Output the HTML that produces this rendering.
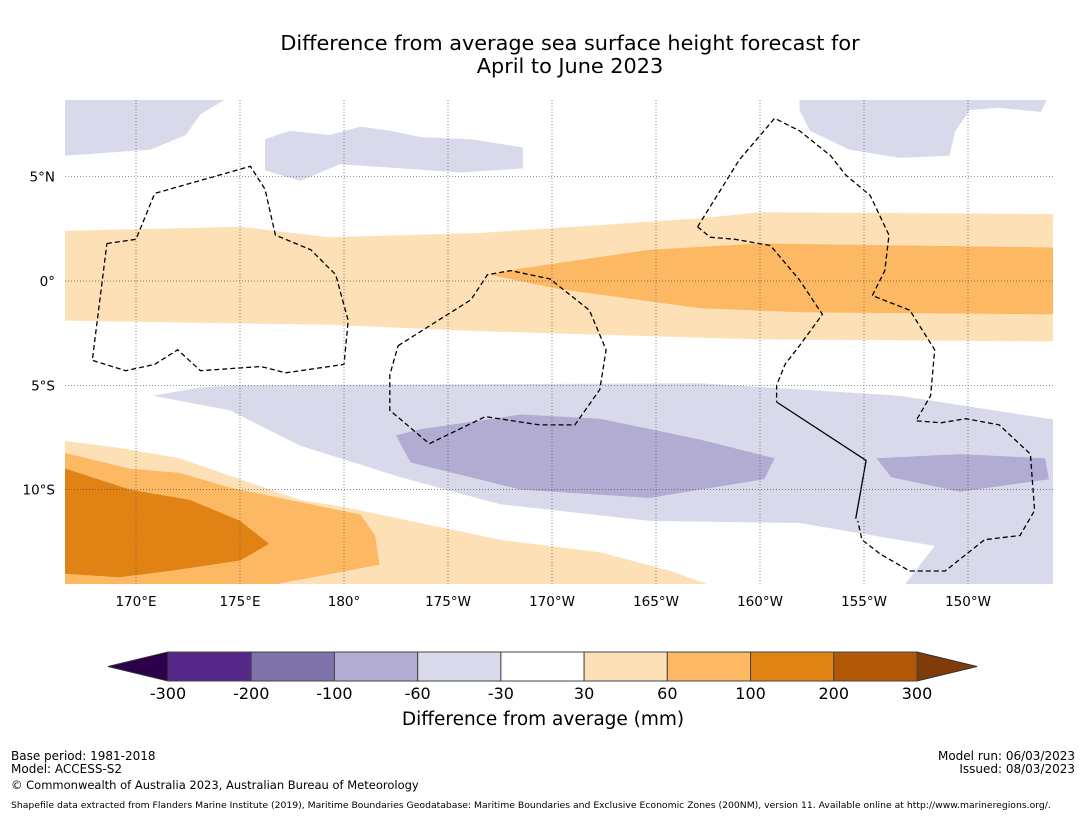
<!DOCTYPE html>
<html><head><meta charset="utf-8"><style>
body{margin:0;background:#fff;font-family:"Liberation Sans","DejaVu Sans",sans-serif}
svg text{font-family:"DejaVu Sans","Liberation Sans",sans-serif}
</style></head><body>
<svg id="chart" width="1085" height="816" viewBox="0 0 1085 816">
<text x="570" y="50" font-size="20.8" text-anchor="middle">Difference from average sea surface height forecast for</text>
<text x="570" y="73" font-size="20.8" text-anchor="middle">April to June 2023</text>
<defs><clipPath id="mapclip"><rect x="65" y="100" width="988" height="484"/></clipPath></defs>
<g id="map" clip-path="url(#mapclip)"></g>
<g id="grid"></g>
<g id="axes"></g>
<g id="cbar"></g>
<text x="543" y="725" font-size="18.5" text-anchor="middle">Difference from average (mm)</text>
<g font-size="12">
<text x="11" y="760">Base period: 1981-2018</text>
<text x="11" y="773">Model: ACCESS-S2</text>
<text x="11" y="789" font-size="11.5">© Commonwealth of Australia 2023, Australian Bureau of Meteorology</text>
<text x="1075" y="760" text-anchor="end">Model run: 06/03/2023</text>
<text x="1075" y="773" text-anchor="end">Issued: 08/03/2023</text>
<text x="11" y="808" font-size="9.25">Shapefile data extracted from Flanders Marine Institute (2019), Maritime Boundaries Geodatabase: Maritime Boundaries and Exclusive Economic Zones (200NM), version 11. Available online at http://www.marineregions.org/.</text>
</g>
</svg>
<script>
const cbBounds=[-300,-200,-100,-60,-30,30,60,100,200,300];
const cbColors=["#542788","#8073ac","#b2abd2","#d8daeb","#ffffff","#fee0b6","#fdb863","#e08214","#b35806"];
const cbExtendColors=["#2d004b","#7f3b08"];
const lonTicks=[170,175,180,185,190,195,200,205,210];
const lonLabels=["170°E","175°E","180°","175°W","170°W","165°W","160°W","155°W","150°W"];
const latTicks=[5,0,-5,-10];
const latLabels=["5°N","0°","5°S","10°S"];
const regionLightPurpleSouth=[[170.8,-5.5],[173.1,-5.1],[175,-5],[197.1,-4.9],[206.7,-5.5],[214.5,-6.7],[214.5,-15],[207,-15],[207,-14.5],[208.4,-12.7],[201.9,-11.6],[194.7,-11.5],[187.5,-10.7],[182.7,-9.4],[177.9,-7.9],[174.5,-6.2]];
const regionMidPurpleA=[[182.5,-7.4],[183.7,-7.1],[188.5,-6.4],[192.3,-6.6],[197.1,-7.6],[200.7,-8.5],[200.2,-9.5],[194.7,-10.4],[188.5,-10],[183.2,-8.7]];
const regionMidPurpleB=[[205.6,-8.5],[209.6,-8.3],[213.7,-8.5],[213.9,-9.5],[209.6,-10.1],[206.3,-9.4]];
const regionPurpleTL=[[166,9],[174.3,9],[174.3,8.7],[173.1,8],[172.4,7],[170.7,6.3],[166.6,6],[166,6]];
const regionPurpleTM=[[176.2,6.8],[177.4,7.2],[179.3,7],[180.8,7.4],[182.2,7.2],[183.7,6.9],[186.1,6.8],[188.6,6.4],[188.6,5.4],[185.6,5.2],[179.8,5.6],[177.9,4.8],[176.2,5.3]];
const regionPurpleTR=[[201.9,9],[213.8,9],[213.8,8.7],[213.5,8.1],[211.5,8.3],[210.1,8.2],[209.4,7.2],[209.1,6],[206.7,5.9],[204.3,6.3],[202.4,7.2],[201.9,8.2]];
const regionLightOrangeEq=[[166,2.4],[166.6,2.4],[175,2.6],[179.3,2.1],[186.5,2.3],[197.1,3.0],[200,3.3],[214.5,3.2],[214.5,-2.9],[200,-2.8],[186.5,-2.4],[179.3,-2.1],[166.6,-1.9],[166,-1.9]];
const regionMidOrangeEq=[[187,0.3],[188.5,0.6],[194.7,1.5],[200,1.8],[214.5,1.6],[214.5,-1.6],[201.9,-1.5],[197.1,-1.3],[190.4,-0.4]];
const regionLightOrangeSW=[[166,-7.6],[169.2,-8.0],[172.1,-8.5],[175,-9.5],[177.9,-10.5],[179.8,-10.8],[182.7,-11.4],[187.5,-12.4],[192.3,-13.0],[195.7,-13.9],[197.4,-14.5],[197.6,-15],[166,-15]];
const regionMidOrangeSW=[[166,-8.1],[169.7,-9.0],[172.1,-9.2],[174.5,-9.9],[176.9,-10.4],[180.8,-11.2],[181.5,-12.2],[181.7,-13.6],[176.9,-14.5],[176,-15],[166,-15]];
const regionDarkOrangeSW=[[166,-8.8],[169.7,-10],[172.6,-10.5],[175,-11.5],[176.4,-12.6],[175,-13.4],[171.6,-13.9],[169.2,-14.2],[166,-14]];
const eezGilbert=[[168.6,1.8],[170,2],[170.9,4.2],[175.5,5.5],[176.2,4.4],[176.7,2.2],[178.4,1.5],[179.6,0.3],[180.2,-1.9],[180,-4],[177.2,-4.4],[176,-4.1],[173.1,-4.3],[172,-3.3],[170.9,-4],[169.5,-4.3],[167.9,-3.8],[168.6,1.8]];
const eezPhoenix=[[182.6,-3.1],[186.1,-0.9],[186.9,0.3],[188,0.5],[189.9,0.1],[191.8,-1.4],[192.6,-3.3],[192.3,-5.2],[191.1,-6.9],[189.4,-6.9],[186.8,-6.5],[184.1,-7.8],[182.2,-6.2],[182.2,-4.5],[182.6,-3.1]];
const eezLineEast=[[197,2.6],[199,5.8],[200.7,7.8],[201.9,7.2],[203.4,6],[204.1,5.1],[205.3,4.1],[206.2,2.2],[206,0.5],[205.4,-0.7],[207.2,-1.4],[208.4,-3.3],[208.2,-5.5],[207.5,-6.7],[208.7,-6.8],[209.9,-6.6],[211.5,-6.9],[213,-8.3],[213.2,-11],[212.5,-12.2],[210.8,-12.4],[208.9,-13.9],[207.2,-13.9],[205.8,-13.1],[204.9,-12.4],[204.7,-11.5]];
const eezLineWest=[[197,2.6],[197.6,2.1],[198.8,2],[200.5,1.7],[201.9,0.05],[203,-1.6],[201.9,-3.1],[201.2,-4],[200.8,-5],[200.8,-5.8]];
const boundarySolid=[[200.8,-5.8],[205.1,-8.6],[204.6,-11.4]];

const NS="http://www.w3.org/2000/svg";
function xLon(lon){return 136+(lon-170)*20.8;}
function yLat(lat){return 281-lat*20.86;}
function pts(a){return a.map(p=>xLon(p[0]).toFixed(1)+","+yLat(p[1]).toFixed(1)).join(" ");}
const map=document.getElementById("map");
function poly(a,fill,name){const e=document.createElementNS(NS,"polygon");e.setAttribute("points",pts(a));e.setAttribute("fill",fill);


map.appendChild(e);}
function line(a,dash,name){const e=document.createElementNS(NS,"polyline");e.setAttribute("points",pts(a));e.setAttribute("fill","none");e.setAttribute("stroke","#000");e.setAttribute("stroke-width","1.3");if(dash)e.setAttribute("stroke-dasharray","5,3");


map.appendChild(e);}
poly(regionLightOrangeEq,cbColors[5],"contour-30-60-equator");
poly(regionMidOrangeEq,cbColors[6],"contour-60-100-equator");
poly(regionLightPurpleSouth,cbColors[3],"contour-neg60-neg30-south");
poly(regionMidPurpleA,cbColors[2],"contour-neg100-neg60-west");
poly(regionMidPurpleB,cbColors[2],"contour-neg100-neg60-east");
poly(regionPurpleTL,cbColors[3],"contour-neg60-neg30-northwest");
poly(regionPurpleTM,cbColors[3],"contour-neg60-neg30-north");
poly(regionPurpleTR,cbColors[3],"contour-neg60-neg30-northeast");
poly(regionLightOrangeSW,cbColors[5],"contour-30-60-southwest");
poly(regionMidOrangeSW,cbColors[6],"contour-60-100-southwest");
poly(regionDarkOrangeSW,cbColors[7],"contour-100-200-southwest");
line(eezGilbert,true,"eez-gilbert-islands");
line(eezPhoenix,true,"eez-phoenix-islands");
line(eezLineEast,true,"eez-line-islands-east");
line(eezLineWest,true,"eez-line-islands-west");
line(boundarySolid,false,"maritime-boundary-solid");

const grid=document.getElementById("grid"),axes=document.getElementById("axes");
lonTicks.forEach((l,i)=>{const x=xLon(l);
const g=document.createElementNS(NS,"line");g.setAttribute("x1",x);g.setAttribute("x2",x);g.setAttribute("y1",100);g.setAttribute("y2",584);g.setAttribute("stroke","#555");g.setAttribute("stroke-width","0.7");g.setAttribute("stroke-dasharray","1,2");


grid.appendChild(g);
const t=document.createElementNS(NS,"text");t.setAttribute("x",x);t.setAttribute("y",606);t.setAttribute("font-size","13.5");t.setAttribute("text-anchor","middle");t.textContent=lonLabels[i];


axes.appendChild(t);});
latTicks.forEach((l,i)=>{const y=yLat(l);
const g=document.createElementNS(NS,"line");g.setAttribute("x1",65);g.setAttribute("x2",1053);g.setAttribute("y1",y);g.setAttribute("y2",y);g.setAttribute("stroke","#555");g.setAttribute("stroke-width","0.7");g.setAttribute("stroke-dasharray","1,2");


grid.appendChild(g);
const t=document.createElementNS(NS,"text");t.setAttribute("x",55);t.setAttribute("y",y+5);t.setAttribute("font-size","13.5");t.setAttribute("text-anchor","end");t.textContent=latLabels[i];


axes.appendChild(t);});

const cb=document.getElementById("cbar");
const cbX0=168,cbX1=917,cbY=652,cbH=29,n=cbColors.length,w=(cbX1-cbX0)/n;
function cbx(i){return cbX0+i*w;}
const tl=document.createElementNS(NS,"polygon");tl.setAttribute("points",`${cbX0},${cbY} ${cbX0},${cbY+cbH} 108,${cbY+cbH/2}`);tl.setAttribute("fill",cbExtendColors[0]);tl.setAttribute("stroke","#333");


cb.appendChild(tl);
const tr=document.createElementNS(NS,"polygon");tr.setAttribute("points",`${cbX1},${cbY} ${cbX1},${cbY+cbH} 977,${cbY+cbH/2}`);tr.setAttribute("fill",cbExtendColors[1]);tr.setAttribute("stroke","#333");


cb.appendChild(tr);
cbColors.forEach((c,i)=>{const r=document.createElementNS(NS,"rect");r.setAttribute("x",cbx(i));r.setAttribute("y",cbY);r.setAttribute("width",w);r.setAttribute("height",cbH);r.setAttribute("fill",c);r.setAttribute("stroke","#444");r.setAttribute("stroke-width","1");


cb.appendChild(r);});
cbBounds.forEach((b,i)=>{const t=document.createElementNS(NS,"text");t.setAttribute("x",cbx(i));t.setAttribute("y",699);t.setAttribute("font-size","16");t.setAttribute("text-anchor","middle");t.textContent=b;


cb.appendChild(t);});
</script>
</body></html>
